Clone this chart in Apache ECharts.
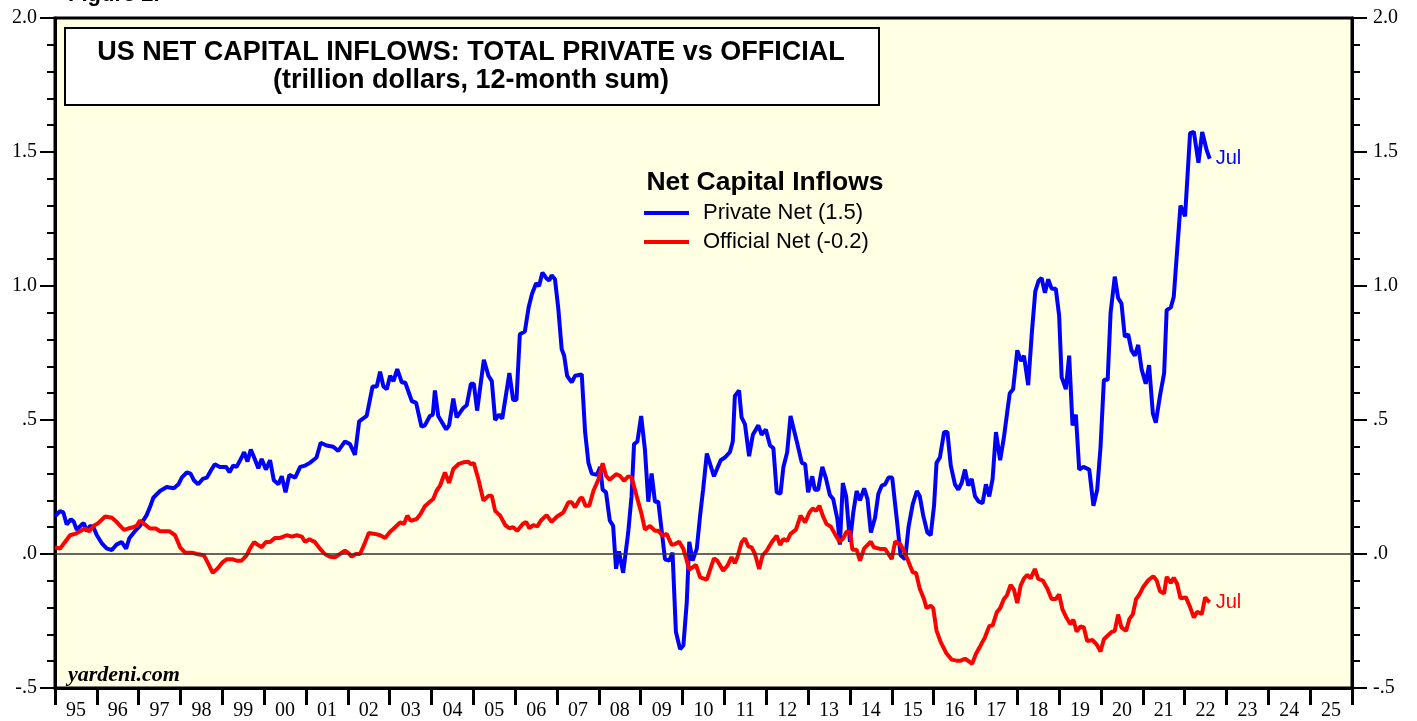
<!DOCTYPE html>
<html>
<head>
<meta charset="utf-8">
<title>US Net Capital Inflows: Total Private vs Official</title>
<script src="https://cdn.jsdelivr.net/npm/echarts@6/dist/echarts.min.js"></script>
<style>
  html, body { margin: 0; padding: 0; background: #fff; }
  #chart { width: 1417px; height: 721px; }
</style>
</head>
<body>
<div id="chart"></div>
<script>
// year labels shown between the yearly ticks (1995 .. 2025)
const yearLabels = ['95', '96', '97', '98', '99', '00', '01', '02', '03', '04', '05', '06', '07', '08', '09', '10',
  '11', '12', '13', '14', '15', '16', '17', '18', '19', '20', '21', '22', '23', '24', '25'];
// tick labels of both value axes, from -0.5 up to 2.0
const yTickLabels = ['-.5', '.0', '.5', '1.0', '1.5', '2.0'];

// private net capital inflows, trillion $, 12-month sum (dates as decimal years)
const privateDates = [
  1995.00, 1995.12, 1995.20, 1995.28, 1995.38, 1995.45, 1995.52, 1995.64, 1995.69, 1995.76, 1995.84, 1995.92,
  1996.00, 1996.12, 1996.24, 1996.36, 1996.47, 1996.59, 1996.70, 1996.78, 1996.91,
  1997.03, 1997.19, 1997.27, 1997.35, 1997.51, 1997.67, 1997.84, 1997.95,
  1998.03, 1998.15, 1998.24, 1998.32, 1998.42, 1998.53, 1998.63, 1998.72, 1998.82, 1998.94,
  1999.09, 1999.17, 1999.26, 1999.34, 1999.46, 1999.52, 1999.60, 1999.68, 1999.76, 1999.86, 1999.94,
  2000.04, 2000.14, 2000.23, 2000.34, 2000.42, 2000.51, 2000.60, 2000.74, 2000.86, 2000.98,
  2001.09, 2001.17, 2001.25, 2001.35, 2001.49, 2001.65, 2001.77, 2001.93,
  2002.05, 2002.17, 2002.27, 2002.45, 2002.59, 2002.69, 2002.77, 2002.85, 2002.93,
  2003.01, 2003.09, 2003.18, 2003.29, 2003.37, 2003.53, 2003.63, 2003.76, 2003.84, 2003.96,
  2004.03, 2004.08, 2004.16, 2004.35, 2004.42, 2004.52, 2004.60, 2004.76, 2004.84, 2004.94,
  2005.01, 2005.09, 2005.25, 2005.36, 2005.44, 2005.52, 2005.61, 2005.69, 2005.86, 2005.95,
  2006.03, 2006.11, 2006.23, 2006.32, 2006.40, 2006.50, 2006.57, 2006.65, 2006.74, 2006.81, 2006.87, 2006.95,
  2007.03, 2007.11, 2007.17, 2007.24, 2007.35, 2007.43, 2007.59, 2007.67, 2007.75, 2007.83, 2007.95,
  2008.03, 2008.09, 2008.17, 2008.26, 2008.34, 2008.41, 2008.48, 2008.52, 2008.58, 2008.70, 2008.78, 2008.84, 2008.92,
  2009.01, 2009.10, 2009.18, 2009.26, 2009.34, 2009.42, 2009.58, 2009.68, 2009.76, 2009.84, 2009.94,
  2010.02, 2010.10, 2010.16, 2010.24, 2010.34, 2010.42, 2010.49, 2010.58, 2010.75, 2010.91,
  2011.01, 2011.13, 2011.20, 2011.25, 2011.35, 2011.41, 2011.49, 2011.59, 2011.68, 2011.81, 2011.89, 2011.99,
  2012.09, 2012.17, 2012.25, 2012.34, 2012.41, 2012.50, 2012.58, 2012.73, 2012.85, 2012.93,
  2013.00, 2013.10, 2013.16, 2013.24, 2013.34, 2013.43, 2013.52, 2013.60, 2013.70, 2013.76, 2013.83, 2013.91,
  2014.00, 2014.08, 2014.16, 2014.24, 2014.34, 2014.42, 2014.50, 2014.60, 2014.68, 2014.76, 2014.84, 2014.92,
  2015.01, 2015.12, 2015.21, 2015.32, 2015.40, 2015.50, 2015.60, 2015.67, 2015.75, 2015.85, 2015.93,
  2016.01, 2016.07, 2016.15, 2016.25, 2016.33, 2016.41, 2016.51, 2016.59, 2016.67, 2016.75, 2016.83, 2016.91, 2016.99,
  2017.08, 2017.17, 2017.25, 2017.33, 2017.41, 2017.49, 2017.59, 2017.68, 2017.76, 2017.82, 2017.90,
  2018.00, 2018.09, 2018.16, 2018.26, 2018.35, 2018.43, 2018.51, 2018.58, 2018.66, 2018.74, 2018.82, 2018.92,
  2019.00, 2019.06, 2019.16, 2019.24, 2019.32, 2019.40, 2019.48, 2019.58, 2019.72, 2019.82, 2019.91, 2019.99,
  2020.07, 2020.16, 2020.23, 2020.33, 2020.41, 2020.49, 2020.57, 2020.65, 2020.73, 2020.81, 2020.89, 2020.97,
  2021.07, 2021.15, 2021.24, 2021.31, 2021.41, 2021.51, 2021.57, 2021.67, 2021.74, 2021.81, 2021.90,
  2022.01, 2022.13, 2022.22, 2022.33, 2022.42, 2022.53, 2022.60
];
const privateNet = [
  0.14, 0.16, 0.155, 0.11, 0.13, 0.12, 0.09, 0.11, 0.115, 0.085, 0.105, 0.10,
  0.07, 0.04, 0.02, 0.015, 0.035, 0.045, 0.02, 0.06, 0.085,
  0.105, 0.145, 0.175, 0.21, 0.235, 0.25, 0.245, 0.26,
  0.285, 0.305, 0.30, 0.275, 0.26, 0.28, 0.285, 0.31, 0.335, 0.325,
  0.325, 0.305, 0.33, 0.325, 0.36, 0.38, 0.345, 0.39, 0.36, 0.32, 0.355,
  0.315, 0.35, 0.275, 0.26, 0.29, 0.23, 0.295, 0.285, 0.325, 0.33,
  0.34, 0.35, 0.36, 0.415, 0.405, 0.40, 0.385, 0.42,
  0.41, 0.37, 0.495, 0.515, 0.625, 0.625, 0.68, 0.625, 0.615,
  0.665, 0.645, 0.69, 0.64, 0.64, 0.57, 0.565, 0.475, 0.48, 0.515,
  0.52, 0.61, 0.515, 0.465, 0.48, 0.58, 0.51, 0.545, 0.555, 0.635,
  0.635, 0.535, 0.725, 0.665, 0.645, 0.50, 0.52, 0.505, 0.675, 0.575,
  0.575, 0.82, 0.83, 0.92, 0.97, 1.01, 1.00, 1.05, 1.03, 1.02, 1.04, 1.025,
  0.915, 0.765, 0.74, 0.665, 0.64, 0.665, 0.67, 0.455, 0.34, 0.30, 0.295,
  0.325, 0.24, 0.23, 0.125, 0.105, -0.055, 0.01, 0.005, -0.07, 0.08, 0.215, 0.41, 0.42,
  0.515, 0.39, 0.195, 0.30, 0.195, 0.195, -0.02, -0.025, 0.005, -0.29, -0.355,
  -0.34, -0.18, 0.045, -0.025, 0.02, 0.145, 0.24, 0.375, 0.29, 0.35,
  0.36, 0.38, 0.42, 0.59, 0.61, 0.51, 0.485, 0.365, 0.445, 0.48, 0.445, 0.465,
  0.405, 0.395, 0.23, 0.225, 0.325, 0.38, 0.515, 0.42, 0.34, 0.335,
  0.23, 0.29, 0.24, 0.24, 0.325, 0.28, 0.22, 0.205, 0.13, 0.035, 0.265, 0.215,
  0.045, 0.155, 0.235, 0.20, 0.245, 0.205, 0.08, 0.135, 0.225, 0.255, 0.26, 0.285,
  0.285, 0.13, -0.005, -0.02, 0.10, 0.185, 0.235, 0.215, 0.145, 0.08, 0.07,
  0.18, 0.34, 0.36, 0.455, 0.455, 0.33, 0.26, 0.24, 0.265, 0.315, 0.255, 0.28, 0.215,
  0.195, 0.19, 0.26, 0.215, 0.28, 0.455, 0.35, 0.435, 0.53, 0.60, 0.615,
  0.76, 0.72, 0.74, 0.63, 0.83, 0.98, 1.02, 1.03, 0.975, 1.025, 0.99, 0.99,
  0.89, 0.66, 0.615, 0.74, 0.48, 0.52, 0.315, 0.325, 0.315, 0.18, 0.24, 0.40,
  0.65, 0.65, 0.90, 1.035, 0.955, 0.935, 0.81, 0.82, 0.76, 0.74, 0.78, 0.69,
  0.635, 0.705, 0.525, 0.49, 0.59, 0.675, 0.91, 0.92, 0.96, 1.11, 1.30,
  1.26, 1.57, 1.575, 1.46, 1.575, 1.505, 1.475
];

// official net capital inflows, trillion $, 12-month sum
const officialDates = [
  1995.00, 1995.12, 1995.24, 1995.36, 1995.48, 1995.60, 1995.72, 1995.82, 1995.92,
  1996.03, 1996.20, 1996.36, 1996.47, 1996.65, 1996.75, 1996.87, 1996.95,
  1997.03, 1997.15, 1997.27, 1997.41, 1997.51, 1997.63, 1997.73, 1997.87, 1997.99,
  1998.11, 1998.27, 1998.39, 1998.56, 1998.66, 1998.77, 1998.88,
  1999.01, 1999.10, 1999.25, 1999.34, 1999.46, 1999.58, 1999.66, 1999.76, 1999.84, 1999.94,
  2000.04, 2000.14, 2000.26, 2000.38, 2000.54, 2000.66, 2000.78, 2000.90, 2000.98,
  2001.08, 2001.14, 2001.21, 2001.33, 2001.45, 2001.57, 2001.69, 2001.81, 2001.93,
  2002.01, 2002.09, 2002.19, 2002.29, 2002.39, 2002.50, 2002.65, 2002.77, 2002.89,
  2003.01, 2003.13, 2003.25, 2003.34, 2003.42, 2003.50, 2003.64, 2003.74, 2003.84, 2003.96,
  2004.04, 2004.12, 2004.20, 2004.32, 2004.42, 2004.52, 2004.64, 2004.76, 2004.88, 2004.94,
  2005.01, 2005.12, 2005.24, 2005.36, 2005.44, 2005.52, 2005.64, 2005.76, 2005.86, 2005.95,
  2006.05, 2006.18, 2006.26, 2006.34, 2006.43, 2006.53, 2006.61, 2006.75, 2006.87,
  2007.00, 2007.15, 2007.27, 2007.35, 2007.43, 2007.55, 2007.60, 2007.68, 2007.77, 2007.87, 2007.99,
  2008.09, 2008.17, 2008.26, 2008.41, 2008.50, 2008.60, 2008.70, 2008.78, 2008.90,
  2009.02, 2009.10, 2009.22, 2009.34, 2009.42, 2009.52, 2009.62, 2009.74, 2009.82, 2009.92,
  2010.02, 2010.16, 2010.32, 2010.42, 2010.58, 2010.65, 2010.75, 2010.83, 2010.97,
  2011.07, 2011.17, 2011.25, 2011.31, 2011.41, 2011.49, 2011.57, 2011.65, 2011.73, 2011.83, 2011.91,
  2012.01, 2012.13, 2012.25, 2012.33, 2012.41, 2012.50, 2012.58, 2012.71, 2012.82, 2012.93,
  2013.03, 2013.11, 2013.19, 2013.27, 2013.35, 2013.44, 2013.54, 2013.64, 2013.75, 2013.83, 2013.92,
  2014.00, 2014.06, 2014.16, 2014.24, 2014.34, 2014.50, 2014.57, 2014.72, 2014.84, 2014.92,
  2015.00, 2015.08, 2015.20, 2015.29, 2015.39, 2015.50, 2015.58, 2015.67, 2015.77, 2015.83, 2015.93, 2015.99,
  2016.07, 2016.17, 2016.30, 2016.43, 2016.55, 2016.65, 2016.75, 2016.85, 2016.92,
  2017.01, 2017.12, 2017.23, 2017.33, 2017.41, 2017.51, 2017.59, 2017.68, 2017.75, 2017.84, 2017.92,
  2018.00, 2018.08, 2018.16, 2018.24, 2018.32, 2018.42, 2018.50, 2018.61, 2018.72, 2018.82, 2018.92,
  2019.00, 2019.08, 2019.18, 2019.27, 2019.34, 2019.42, 2019.51, 2019.59, 2019.67, 2019.80, 2019.90, 2019.99,
  2020.07, 2020.17, 2020.26, 2020.33, 2020.41, 2020.49, 2020.60, 2020.68, 2020.76, 2020.84, 2020.92,
  2021.01, 2021.13, 2021.25, 2021.33, 2021.41, 2021.51, 2021.57, 2021.67, 2021.74, 2021.82, 2021.90,
  2022.03, 2022.13, 2022.22, 2022.30, 2022.41, 2022.49, 2022.56, 2022.60
];
const officialNet = [
  0.025, 0.02, 0.045, 0.07, 0.075, 0.085, 0.095, 0.085, 0.105,
  0.115, 0.14, 0.135, 0.12, 0.09, 0.095, 0.10, 0.105,
  0.125, 0.11, 0.095, 0.095, 0.085, 0.085, 0.085, 0.07, 0.025,
  0.005, 0.005, 0.0, -0.005, -0.035, -0.07, -0.055,
  -0.03, -0.02, -0.02, -0.025, -0.025, -0.005, 0.02, 0.045, 0.035, 0.025,
  0.045, 0.045, 0.06, 0.06, 0.07, 0.065, 0.07, 0.065, 0.045,
  0.055, 0.05, 0.045, 0.02, 0.0, -0.01, -0.012, 0.0, 0.012,
  0.004, -0.01, 0.0, 0.0, 0.035, 0.078, 0.075, 0.07, 0.06,
  0.083, 0.10, 0.118, 0.112, 0.143, 0.124, 0.13, 0.15, 0.178, 0.195,
  0.205, 0.236, 0.254, 0.304, 0.265, 0.317, 0.335, 0.342, 0.344, 0.335,
  0.339, 0.279, 0.199, 0.217, 0.217, 0.161, 0.143, 0.108, 0.096, 0.10,
  0.087, 0.112, 0.12, 0.096, 0.108, 0.103, 0.124, 0.145, 0.12,
  0.14, 0.155, 0.193, 0.193, 0.174, 0.207, 0.211, 0.18, 0.18, 0.236, 0.279,
  0.339, 0.292, 0.277, 0.298, 0.292, 0.273, 0.29, 0.286, 0.217,
  0.149, 0.091, 0.105, 0.087, 0.087, 0.068, 0.075, 0.034, 0.037, 0.046,
  0.019, -0.058, -0.041, -0.087, -0.096, -0.062, -0.016, -0.025, -0.062,
  -0.044, -0.012, -0.034, -0.012, 0.044, 0.058, 0.029, 0.025, 0.0, -0.056, -0.006,
  0.012, 0.044, 0.068, 0.034, 0.056, 0.049, 0.075, 0.091, 0.143, 0.118,
  0.155, 0.17, 0.161, 0.18, 0.143, 0.112, 0.103, 0.075, 0.046, 0.056, 0.083,
  0.083, 0.016, 0.016, -0.025, 0.021, 0.046, 0.025, 0.019, 0.019, 0.0,
  -0.019, 0.046, 0.037, 0.012, -0.025, -0.068, -0.071, -0.13, -0.168, -0.202, -0.193, -0.202,
  -0.286, -0.329, -0.369, -0.394, -0.398, -0.398, -0.391, -0.401, -0.41,
  -0.373, -0.342, -0.31, -0.269, -0.267, -0.217, -0.202, -0.168, -0.155, -0.115, -0.133,
  -0.183, -0.118, -0.091, -0.078, -0.091, -0.056, -0.093, -0.099, -0.13, -0.168, -0.168,
  -0.151, -0.207, -0.239, -0.262, -0.245, -0.29, -0.27, -0.274, -0.325, -0.321, -0.338, -0.364,
  -0.318, -0.303, -0.29, -0.287, -0.226, -0.274, -0.287, -0.242, -0.226, -0.168, -0.151,
  -0.123, -0.098, -0.083, -0.098, -0.139, -0.147, -0.085, -0.108, -0.088, -0.111, -0.165,
  -0.162, -0.198, -0.237, -0.216, -0.224, -0.162, -0.175, -0.18
];

const serif = 'Liberation Serif';
const sans = 'Liberation Sans';

function valueAxis(position, margin) {
  return {
    type: 'value',
    position: position,
    min: -0.5,
    max: 2.0,
    interval: 0.5,
    axisLine: { show: true, onZero: false, lineStyle: { color: '#000', width: 3 } },
    axisTick: { show: true, length: 15, lineStyle: { color: '#000', width: 2 } },
    minorTick: { show: true, splitNumber: 5, length: 8, lineStyle: { color: '#000', width: 2 } },
    splitLine: { show: false },
    axisLabel: {
      margin: margin,
      color: '#000',
      fontFamily: serif,
      fontSize: 20,
      formatter: function (v) {
        return yTickLabels[Math.round((v + 0.5) / 0.5)];
      }
    }
  };
}

const chart = echarts.init(document.getElementById('chart'));
chart.setOption({
  animation: false,
  backgroundColor: '#fff',
  grid: {
    left: 55, right: 65, top: 18, bottom: 32,
    show: true,
    backgroundColor: '#FFFFE3',
    borderColor: '#000',
    borderWidth: 3
  },
  xAxis: [{
    type: 'category',
    data: yearLabels,
    position: 'bottom',
    boundaryGap: true,
    axisLine: { show: true, onZero: false, lineStyle: { color: '#000', width: 3 } },
    axisTick: { show: true, length: 17, lineStyle: { color: '#000', width: 3 } },
    axisLabel: { margin: 13, color: '#000', fontFamily: serif, fontSize: 20, interval: 0 },
    splitLine: { show: false }
  }, {
    type: 'value',
    min: 1995,
    max: 2026,
    show: false
  }],
  yAxis: [valueAxis('left', 18), valueAxis('right', 21)],
  legend: {
    orient: 'vertical',
    left: 639,
    top: 197,
    icon: 'rect',
    itemWidth: 45,
    itemHeight: 4,
    itemGap: 7,
    textStyle: { color: '#000', fontFamily: sans, fontSize: 22, padding: [0, 0, 0, 9] },
    data: ['Private Net (1.5)', 'Official Net (-0.2)']
  },
  graphic: [
    {
      type: 'text', left: 68, top: -16,
      style: { text: 'Figure 2.', fill: '#000', font: 'bold 22px "Liberation Sans"' }
    },
    {
      type: 'rect', left: 64, top: 27, z: 10,
      shape: { width: 814, height: 77 },
      style: { fill: '#fff', stroke: '#000', lineWidth: 2 }
    },
    {
      type: 'text', x: 471, y: 53, z: 11,
      style: {
        text: 'US NET CAPITAL INFLOWS: TOTAL PRIVATE vs OFFICIAL',
        fill: '#000', font: 'bold 27px "Liberation Sans"', align: 'center', verticalAlign: 'middle'
      }
    },
    {
      type: 'text', x: 471, y: 81, z: 11,
      style: {
        text: '(trillion dollars, 12-month sum)',
        fill: '#000', font: 'bold 27px "Liberation Sans"', align: 'center', verticalAlign: 'middle'
      }
    },
    {
      type: 'text', x: 765, y: 183, z: 11,
      style: {
        text: 'Net Capital Inflows',
        fill: '#000', font: 'bold 26.5px "Liberation Sans"', align: 'center', verticalAlign: 'middle'
      }
    },
    {
      type: 'text', x: 68, y: 675, z: 11,
      style: {
        text: 'yardeni.com',
        fill: '#000', font: 'italic bold 22px "Liberation Serif"', verticalAlign: 'middle'
      }
    }
  ],
  series: [{
    name: 'Private Net (1.5)',
    type: 'line',
    xAxisIndex: 1,
    yAxisIndex: 0,
    data: privateDates.map((d, i) => [d, privateNet[i]]),
    symbol: 'none',
    lineStyle: { color: '#0000FF', width: 4 },
    itemStyle: { color: '#0000FF' },
    endLabel: { show: true, formatter: 'Jul', color: '#0000FF', fontFamily: sans, fontSize: 20, distance: 6 },
    markLine: {
      silent: true,
      symbol: ['none', 'none'],
      label: { show: false },
      lineStyle: { color: '#333', width: 1.5, type: 'solid' },
      data: [{ yAxis: 0 }]
    },
    z: 3
  }, {
    name: 'Official Net (-0.2)',
    type: 'line',
    xAxisIndex: 1,
    yAxisIndex: 0,
    data: officialDates.map((d, i) => [d, officialNet[i]]),
    symbol: 'none',
    lineStyle: { color: '#FF0000', width: 4 },
    itemStyle: { color: '#FF0000' },
    endLabel: { show: true, formatter: 'Jul', color: '#FF0000', fontFamily: sans, fontSize: 20, distance: 6 },
    z: 3
  }]
});
</script>
</body>
</html>
